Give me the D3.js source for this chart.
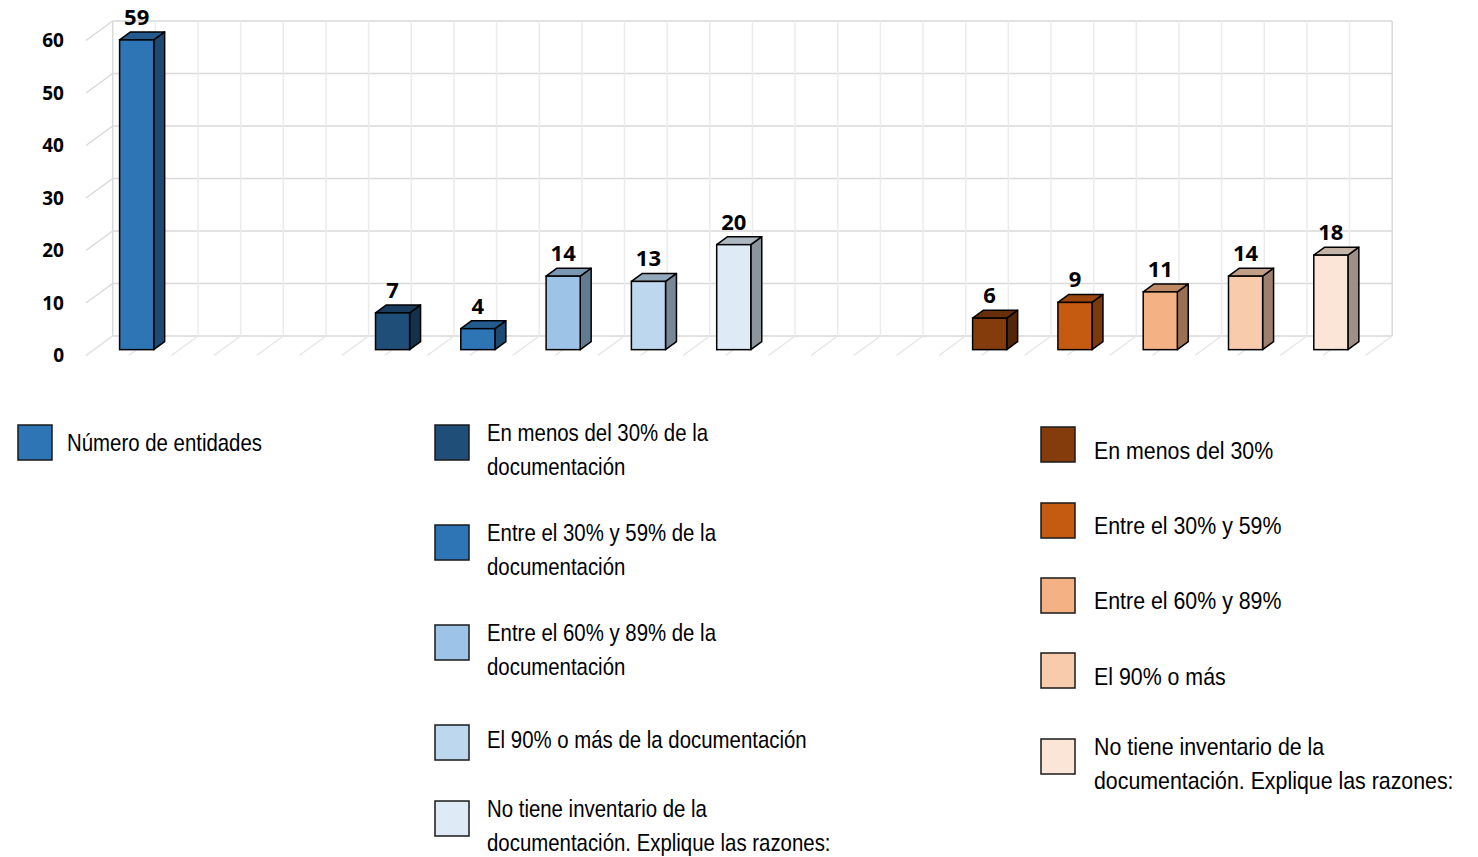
<!DOCTYPE html>
<html lang="es">
<head>
<meta charset="UTF-8">
<title>Número de entidades</title>
<script src="https://d3js.org/d3.v7.min.js"></script>
<style>
  body { margin: 0; background: #fff; }
</style>
</head>
<body>
<div id="chart"></div>
<script>
// ---- data ----
const groupTotal = ["Número de entidades"];
const groupDoc = [
  "En menos del 30% de la\ndocumentación",
  "Entre el 30% y 59% de la\ndocumentación",
  "Entre el 60% y 89% de la\ndocumentación",
  "El 90% o más de la documentación",
  "No tiene inventario de la\ndocumentación. Explique las razones:"
];
const groupPct = [
  "En menos del 30%",
  "Entre el 30% y 59%",
  "Entre el 60% y 89%",
  "El 90% o más",
  "No tiene inventario de la\ndocumentación. Explique las razones:"
];
const valuesTotal = [59];
const valuesDoc = [7, 4, 14, 13, 20];
const valuesPct = [6, 9, 11, 14, 18];
const colorsTotal = ["#2E75B6"];
const colorsDoc = ["#1F4E79", "#2E75B6", "#9DC3E6", "#BDD7EE", "#DEEBF7"];
const colorsPct = ["#843C0C", "#C55A11", "#F4B183", "#F8CBAD", "#FBE5D6"];
const yTicks = [0, 10, 20, 30, 40, 50, 60];

// ---- layout ----
const W = 1478, H = 857;
const svg = d3.select("#chart").append("svg")
  .attr("width", W).attr("height", H);

// 3D oblique offsets (front plane -> back wall)
const depthX = 26.7, depthY = -19.5;
const barD0 = 0.3, barD1 = 0.71;

// build slot list: groups separated by two empty slots
const groups = [
  {names: groupTotal, values: valuesTotal, colors: colorsTotal},
  {names: groupDoc, values: valuesDoc, colors: colorsDoc},
  {names: groupPct, values: valuesPct, colors: colorsPct}
];
const slots = [];
const bars = [];
groups.forEach((g, gi) => {
  if (gi > 0) { slots.push("gap" + gi + "a"); slots.push("gap" + gi + "b"); }
  g.names.forEach((n, i) => {
    const key = gi + ":" + i;
    slots.push(key);
    bars.push({key: key, name: n, value: g.values[i], color: g.colors[i]});
  });
});

const x = d3.scaleBand().domain(slots).range([86, 86 + 15 * 85.3]);
const y = d3.scaleLinear().domain([0, 60]).range([355.5, 40.5]);

// ---- grid ----
const grid = svg.append("g");
const backL = x.range()[0] + depthX, backR = x.range()[1] + depthX;
// horizontal lines on back wall + left wall diagonals
yTicks.forEach(t => {
  grid.append("line")
    .attr("x1", backL).attr("x2", backR)
    .attr("y1", y(t) + depthY).attr("y2", y(t) + depthY)
    .attr("stroke", "#d9d9d9").attr("stroke-width", 1.5);
  grid.append("line")
    .attr("x1", x.range()[0]).attr("y1", y(t))
    .attr("x2", backL).attr("y2", y(t) + depthY)
    .attr("stroke", "#d9d9d9").attr("stroke-width", 1.5);
});
// vertical lines on back wall and floor diagonals every half slot
const halfStep = x.step() / 2;
d3.range(31).forEach(i => {
  const fx = x.range()[0] + i * halfStep;
  grid.append("line")
    .attr("x1", fx + depthX).attr("x2", fx + depthX)
    .attr("y1", y(60) + depthY).attr("y2", y(0) + depthY)
    .attr("stroke", i === 0 || i === 30 ? "#d9d9d9" : "#ebebeb").attr("stroke-width", 1.5);
  grid.append("line")
    .attr("x1", fx).attr("y1", y(0))
    .attr("x2", fx + depthX).attr("y2", y(0) + depthY)
    .attr("stroke", "#e6e6e6").attr("stroke-width", 1.5);
});

// ---- y axis labels ----
svg.append("g").selectAll("text")
  .data(yTicks).enter().append("text")
  .attr("x", 64).attr("y", d => y(d))
  .attr("dy", "0.35em")
  .attr("text-anchor", "end")
  .attr("font-family", "'Noto Sans', sans-serif")
  .attr("font-weight", "bold").attr("font-size", 19)
  .attr("fill", "#000")
  .text(d => d);

// ---- bars ----
const bw = x.bandwidth() * 0.4;
const ox0 = barD0 * depthX, oy0 = barD0 * depthY;
const sdx = (barD1 - barD0) * depthX, sdy = (barD1 - barD0) * depthY;
const shade = (c, k) => {
  const r = d3.rgb(c);
  return d3.rgb(r.r * k, r.g * k, r.b * k).formatHex();
};

const barG = svg.append("g").selectAll("g")
  .data(bars).enter().append("g");

barG.each(function(d) {
  const g = d3.select(this);
  const xl = x(d.key) + (x.bandwidth() - bw) / 2 + ox0;
  const xr = xl + bw;
  const yb = y(0) + oy0;
  const yt = y(d.value) + oy0;
  // side face
  g.append("path")
    .attr("d", `M${xr},${yb}L${xr + sdx},${yb + sdy}L${xr + sdx},${yt + sdy}L${xr},${yt}Z`)
    .attr("fill", shade(d.color, 0.63))
    .attr("stroke", "#000").attr("stroke-width", 1.5).attr("stroke-linejoin", "round");
  // top face
  g.append("path")
    .attr("d", `M${xl},${yt}L${xr},${yt}L${xr + sdx},${yt + sdy}L${xl + sdx},${yt + sdy}Z`)
    .attr("fill", shade(d.color, 0.78))
    .attr("stroke", "#000").attr("stroke-width", 1.5).attr("stroke-linejoin", "round");
  // front face
  g.append("rect")
    .attr("x", xl).attr("y", yt)
    .attr("width", bw).attr("height", yb - yt)
    .attr("fill", d.color)
    .attr("stroke", "#000").attr("stroke-width", 1.5);
  // value label
  g.append("text")
    .attr("x", (xl + xr) / 2).attr("y", yt + sdy - 7)
    .attr("text-anchor", "middle")
    .attr("font-family", "'Noto Sans', sans-serif")
    .attr("font-weight", "bold").attr("font-size", 22)
    .attr("fill", "#000")
    .text(d.value);
});

// ---- legend ----
const legendCols = [
  {group: 0, x: 18, tx: 67, sx: 0.85, boxY: [425], textY: [443]},
  {group: 1, x: 435, tx: 487, sx: 0.85, boxY: [425, 525, 625, 725, 801], textY: [433, 533, 633, 740, 809]},
  {group: 2, x: 1041, tx: 1094, sx: 0.89, boxY: [427, 503, 578, 653, 739], textY: [451, 526, 601, 677, 747]}
];
const legend = svg.append("g");
legendCols.forEach(col => {
  const g = groups[col.group];
  g.names.forEach((n, i) => {
    legend.append("rect")
      .attr("x", col.x).attr("y", col.boxY[i])
      .attr("width", 34).attr("height", 35)
      .attr("fill", g.colors[i])
      .attr("stroke", "#1a1a1a").attr("stroke-width", 1.5);
    // narrow look: Liberation Sans squeezed horizontally
    const t = legend.append("text")
      .attr("transform", `translate(${col.tx},0) scale(${col.sx},1)`)
      .attr("font-family", "'Liberation Sans', Arial, sans-serif")
      .attr("font-size", 24).attr("fill", "#000");
    n.split("\n").forEach((line, li) => {
      t.append("tspan")
        .attr("x", 0)
        .attr("y", col.textY[i] + li * 34)
        .attr("dy", "0.35em")
        .text(line);
    });
  });
});
</script>
</body>
</html>
